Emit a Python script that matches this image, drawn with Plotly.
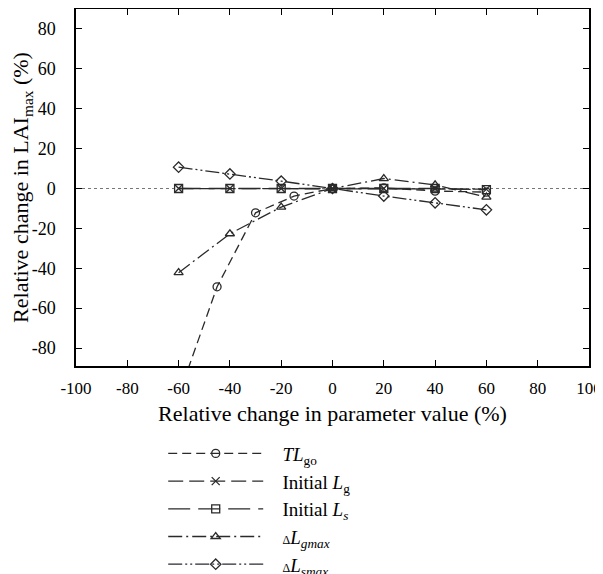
import plotly.graph_objects as go

# Data
x_tlgo = [-60, -45, -30, -15, 0, 20, 40, 60]
y_tlgo = [-104, -49.3, -12.2, -3.8, 0, 0.3, -1.3, -1.8]

x_std = [-60, -40, -20, 0, 20, 40, 60]
y_lg = [0, 0, 0, 0, 0, 0, -0.3]
y_ls = [0, 0, 0, 0, 0, 0, -0.6]
y_lgmax = [-42.2, -22.7, -9.3, 0, 5.0, 1.8, -4.3]
y_lsmax = [10.7, 7.3, 3.7, 0, -3.8, -7.2, -10.7]

x_ticks = [-100, -80, -60, -40, -20, 0, 20, 40, 60, 80, 100]
y_ticks = [-80, -60, -40, -20, 0, 20, 40, 60, 80]

PAD = "&nbsp;&nbsp;&nbsp;"
names = [
    PAD + "<i>TL</i><sub>go</sub>",
    PAD + "Initial <i>L</i><sub>g</sub>",
    PAD + "Initial <i>L</i><sub><i>s</i></sub>",
    PAD + "<span style='font-size:12px'>Δ</span><i>L</i><sub><i>gmax</i></sub>",
    PAD + "<span style='font-size:12px'>Δ</span><i>L</i><sub><i>smax</i></sub>",
]

FONT = "Liberation Serif"
LC = "#2a2a2a"

fig = go.Figure()

series = [
    (x_tlgo, y_tlgo, names[0], "circle-open", "9px,5px"),
    (x_std, y_lg, names[1], "x-thin-open", "15px,6px"),
    (x_std, y_ls, names[2], "square-open", "22px,8px"),
    (x_std, y_lgmax, names[3], "triangle-up-open", "14px,4px,2px,4px"),
    (x_std, y_lsmax, names[4], "diamond-open", "14px,3px,2px,3px,2px,3px"),
]

for i, (xs, ys, nm, sym, dash) in enumerate(series):
    fig.add_trace(go.Scatter(
        x=xs, y=ys, name=nm, mode="lines+markers", legendgroup=f"g{i}",
        line=dict(color=LC, width=1.3, dash=dash),
        marker=dict(symbol=sym, size=8, color=LC, line=dict(width=1.3, color=LC)),
        cliponaxis=True,
    ))

fig.add_shape(type="line", xref="paper", x0=0, x1=1, yref="y", y0=0, y1=0,
              line=dict(color="#777777", width=1, dash="dot"), layer="below")

axis_common = dict(
    showline=True, linecolor="black", linewidth=1.5, mirror="allticks",
    ticks="inside", ticklen=6, tickwidth=1.3, tickcolor="black",
    showgrid=False, zeroline=False, automargin=False,
)

fig.update_xaxes(range=[-100, 100], tickvals=x_ticks,
                 ticktext=[str(v) for v in x_ticks], ticklabeloverflow="allow",
                 ticklabelstandoff=6,
                 tickfont=dict(family=FONT, size=17, color="black"),
                 title=dict(text="Relative change in parameter value (%)",
                            font=dict(family=FONT, size=22, color="black"), standoff=8),
                 **axis_common)
fig.update_yaxes(range=[-89, 90], tickvals=y_ticks,
                 ticktext=[str(v) for v in y_ticks],
                 ticklabelstandoff=15,
                 tickfont=dict(family=FONT, size=18, color="black"),
                 title=dict(text="Relative change in LAI<sub>max</sub> (%)",
                            font=dict(family=FONT, size=22, color="black"), standoff=0),
                 **axis_common)

# page body adds an 8px offset, so the figure is sized to fit the 603x574 window
fig.update_layout(
    width=595, height=566,
    margin=dict(l=68, r=14, t=1, b=208, autoexpand=False),
    paper_bgcolor="white", plot_bgcolor="white",
    font=dict(family=FONT, size=18, color="black"),
    legend=dict(x=0.17, y=-0.192, xanchor="left", yanchor="top",
                itemwidth=95, tracegroupgap=0, traceorder="grouped",
                font=dict(family=FONT, size=19, color="black"),
                bgcolor="rgba(0,0,0,0)"),
)

fig.write_html("out.html")
